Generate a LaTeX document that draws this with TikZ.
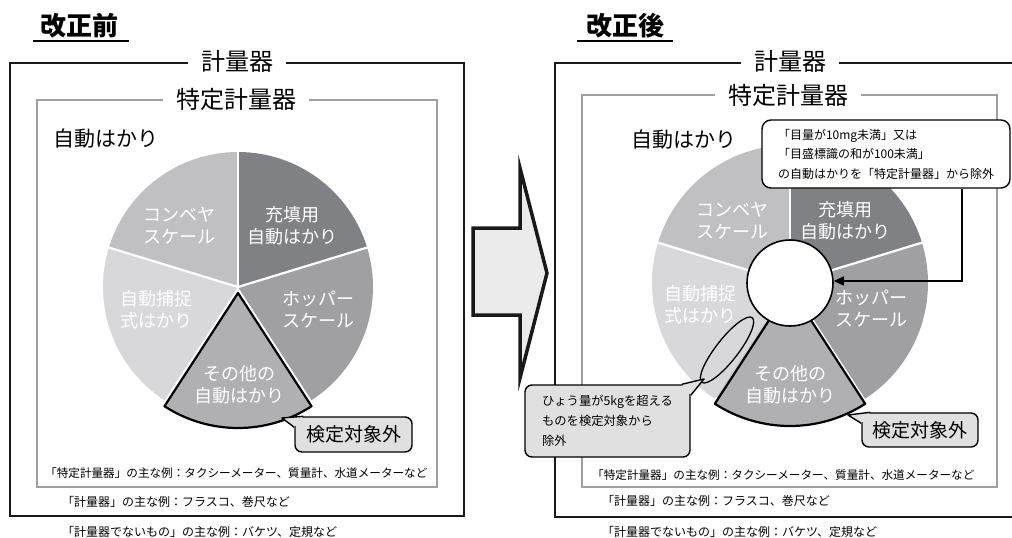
\documentclass[tikz,border=0pt]{standalone}
\usepackage{fontspec}
\setmainfont{Noto Sans CJK JP}
\usetikzlibrary{arrows.meta}

\definecolor{fillgray}{RGB}{128,129,132}
\definecolor{hoppergray}{RGB}{160,160,163}
\definecolor{othergray}{RGB}{176,176,179}
\definecolor{catchgray}{RGB}{216,216,218}
\definecolor{stripgray}{RGB}{204,204,206}
\definecolor{conveyorgray}{RGB}{192,192,194}
\definecolor{framegray}{RGB}{160,160,162}
\definecolor{calloutgray}{RGB}{224,224,225}
\definecolor{arrowgray}{RGB}{235,235,236}

\tikzset{
  heading/.style={font=\bfseries\fontsize{26}{26}\selectfont, inner sep=0pt},
  outerline/.style={line width=2.2pt, draw=black!90},
  innerline/.style={line width=2.2pt, draw=framegray},
  boxtitle/.style={fill=white, inner xsep=13pt, inner ysep=0pt, font=\fontsize{24}{24}\selectfont},
  subhead/.style={inner sep=0pt, font=\fontsize{21}{21}\selectfont},
  slicetext/.style={text=white, align=center, inner sep=0pt, font=\fontsize{18}{22}\selectfont},
  note/.style={anchor=west, inner sep=0pt, font=\fontsize{12}{12}\selectfont},
  callout/.style={draw, line width=1.4pt, fill=calloutgray, rounded corners=7pt, inner sep=0pt},
  calltext/.style={align=left, font=\fontsize{12.3}{20}\selectfont},
  sep/.style={white, line width=2.2pt},
  wedge/.style={draw, line width=2.2pt, line join=round, fill=othergray},
}

\begin{document}
\begin{tikzpicture}[x=1pt, y=-1pt]
\useasboundingbox (0,0) rectangle (1012,538);

% ---- before ----
\node[heading] (before) at (79,26) {改正前};
\draw[line width=1.6pt] (33,41) -- (129,41);

\draw[outerline] (10,63) rectangle (464,516);
\draw[innerline] (37,100) rectangle (437,487);
\node[boxtitle] (meterL) at (237,61) {計量器};
\node[boxtitle] (specL) at (236,99) {特定計量器};
\node[subhead] (autoL) at (106,139) {自動はかり};

\begin{scope}[shift={(238,287)}, y=1pt]
  \fill[conveyorgray] (0,0) -- (90:135) arc[start angle=90, end angle=163, radius=135] -- cycle;
  \fill[fillgray] (0,0) -- (17:135) arc[start angle=17, end angle=90, radius=135] -- cycle;
  \fill[catchgray] (0,0) -- (163:135) arc[start angle=163, end angle=237, radius=135] -- cycle;
  \fill[hoppergray] (0,0) -- (303:135) arc[start angle=303, end angle=377, radius=135] -- cycle;
  \foreach \a in {17,90,163}
    \draw[sep] (0,0) -- (\a:136);
  \draw[wedge] (0,-6) -- ++(237:135) arc[start angle=237, end angle=303, radius=135] -- cycle;
\end{scope}

\node[slicetext] (convL) at (179,226) {コンベヤ\\スケール};
\node[slicetext] (fillL) at (292,226) {充填用\\自動はかり};
\node[slicetext] (catchL) at (156,310) {自動捕捉\\式はかり};
\node[slicetext] (hopL) at (318,310) {ホッパー\\スケール};
\node[slicetext] (otherL) at (239,385) {その他の\\自動はかり};

% callout
\node[callout, minimum width=117pt, minimum height=35pt, font=\fontsize{19}{19}\selectfont] (exemptL) at (353.5,434.5) {検定対象外};
\coordinate (tipL) at (282,418);
\fill[calloutgray] (tipL) -- ([xshift=9pt]exemptL.north west) -- ([yshift=-11pt]exemptL.north west) -- cycle;
\draw[line width=1.4pt, line join=round] ([xshift=9pt]exemptL.north west) -- (tipL) -- ([yshift=-11pt]exemptL.north west);

\node[note, font=\fontsize{11.6}{11.6}\selectfont] (exSpecL) at (45,473) {「特定計量器」の主な例：タクシーメーター、質量計、水道メーターなど};
\node[note] (exMeterL) at (62,502) {「計量器」の主な例：フラスコ、巻尺など};
\node[note] (exNoneL) at (62,532) {「計量器でないもの」の主な例：バケツ、定規など};

% ---- arrow ----
\draw[line width=3.5pt, fill=arrowgray, draw=black!90, miter limit=20]
  (473,228) -- (520,228) -- (520,168) -- (547,273) -- (520,378) -- (520,315) -- (473,315) -- cycle;

% ---- after ----
\node[heading] (after) at (625,26) {改正後};
\draw[line width=1.6pt] (577,41) -- (673,41);

\draw[outerline] (1013,63) -- (555,63) -- (555,517) -- (1013,517);
\draw[innerline] (582,95) rectangle (997,487);
\node[boxtitle] (meterR) at (790,61) {計量器};
\node[boxtitle] (specR) at (788,95) {特定計量器};
\node[subhead] (autoR) at (684,140) {自動はかり};

\begin{scope}[shift={(790,283)}, y=1pt]
  \fill[conveyorgray] (0,0) -- (90:138) arc[start angle=90, end angle=163, radius=138] -- cycle;
  \fill[fillgray] (0,0) -- (17:138) arc[start angle=17, end angle=90, radius=138] -- cycle;
  \fill[catchgray] (0,0) -- (163:138) arc[start angle=163, end angle=237, radius=138] -- cycle;
  \fill[stripgray] (0,0) -- (237:136) arc[start angle=237, end angle=247, radius=136] -- cycle;
  \fill[hoppergray] (0,0) -- (303:138) arc[start angle=303, end angle=377, radius=138] -- cycle;
  \foreach \a in {17,90,163}
    \draw[sep] (0,0) -- (\a:139);
  \draw[wedge] (0,-5) -- ++(237:138) arc[start angle=237, end angle=303, radius=138] -- cycle;
\end{scope}

\node[draw, circle, fill=white, line width=1.6pt, minimum size=86pt, inner sep=0pt] (hole) at (790,283) {};

\node[slicetext] (convR) at (732,221) {コンベヤ\\スケール};
\node[slicetext] (fillR) at (845,221) {充填用\\自動はかり};
\node[slicetext] (catchR) at (700,305) {自動捕捉\\式はかり};
\node[slicetext] (hopR) at (871,309) {ホッパー\\スケール};
\node[slicetext] (otherR) at (790,385) {その他の\\自動はかり};

\draw[line width=1.3pt, rotate around={52:(727,350)}] (727,350) ellipse[x radius=41, y radius=11];

% top callout and its arrow
\node[draw, fill=white, line width=1.4pt, rounded corners=9pt, minimum width=248pt, minimum height=68pt,
  calltext, font=\fontsize{12}{19.5}\selectfont] (limit) at (886,154)
  {「目量が10mg未満」又は\\「目盛標識の和が100未満」\\の自動はかりを「特定計量器」から除外};
\coordinate (turn) at (962,281);
\draw[line width=1.5pt, -{Triangle[length=10pt, width=9pt]}] (limit.south -| turn) -- (turn) -- (hole.east |- turn);

% lower left callout
\node[callout, minimum width=165pt, minimum height=72pt, calltext] (heavy) at (607.5,421)
  {ひょう量が5kgを超える\\ものを検定対象から\\除外};
\coordinate (tipH) at (704,379);
\fill[calloutgray] (tipH) -- ([xshift=-9pt]heavy.north east) -- ([yshift=-11pt]heavy.north east) -- cycle;
\draw[line width=1.4pt, line join=round] ([xshift=-9pt]heavy.north east) -- (tipH) -- ([yshift=-11pt]heavy.north east);

% lower right callout
\node[callout, minimum width=116pt, minimum height=34pt, font=\fontsize{19}{19}\selectfont] (exemptR) at (920,430) {検定対象外};
\coordinate (tipR) at (848,415);
\fill[calloutgray] (tipR) -- ([xshift=9pt]exemptR.north west) -- ([yshift=-11pt]exemptR.north west) -- cycle;
\draw[line width=1.4pt, line join=round] ([xshift=9pt]exemptR.north west) -- (tipR) -- ([yshift=-11pt]exemptR.north west);

\node[note, font=\fontsize{11.6}{11.6}\selectfont] (exSpecR) at (592,475) {「特定計量器」の主な例：タクシーメーター、質量計、水道メーターなど};
\node[note] (exMeterR) at (602,501) {「計量器」の主な例：フラスコ、巻尺など};
\node[note] (exNoneR) at (602,532) {「計量器でないもの」の主な例：バケツ、定規など};
\end{tikzpicture}
\end{document}
